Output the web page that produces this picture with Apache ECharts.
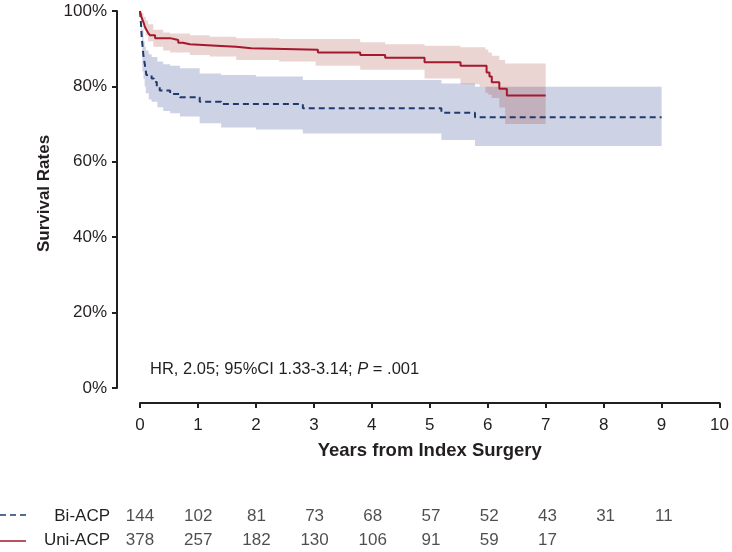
<!DOCTYPE html>
<html><head><meta charset="utf-8">
<script src="https://cdn.jsdelivr.net/npm/echarts@6/dist/echarts.min.js"></script>
<style>html,body{margin:0;padding:0;background:#fff}#c{width:732px;height:552px}</style>
</head><body><div id="c"></div>
<script>
// ---- data ----
const xTicks = [0,1,2,3,4,5,6,7,8,9,10];
const yTicks = [0,20,40,60,80,100];
// Bi-ACP Kaplan-Meier steps (time in years, survival %)
const biT = [0,0.015,0.03,0.06,0.09,0.11,0.20,0.24,0.29,0.34,0.52,0.69,1.03,1.40,2.81,5.20,5.78,9.0];
const biS = [100,97,93,88,85.2,83.0,82.1,81.2,79.8,78.9,78.0,77.1,75.9,75.3,74.2,73.0,71.8,71.8];
// Bi-ACP 95% CI band
const biBandT  = [0,0.02,0.04,0.06,0.08,0.10,0.15,0.20,0.30,0.40,0.52,0.69,1.03,1.40,2.0,2.81,5.20,5.78,9.0];
const biBandLo = [100,93,84,82,80,78.2,76.5,75.9,74.5,73.5,72.9,72.0,70.2,69.1,68.6,67.5,65.8,64.2,64.2];
const biBandHi = [100,99,95,92,90.5,89.5,88.5,87.8,86.6,85.9,85.5,84.8,83.4,83.0,82.6,81.7,80.8,79.9,79.9];
// Uni-ACP Kaplan-Meier steps
const uniT = [0,0.02,0.04,0.06,0.08,0.11,0.14,0.17,0.26,0.52,0.66,0.74,0.86,1.32,1.66,1.92,3.07,3.80,4.23,4.91,5.53,5.98,6.03,6.07,6.20,6.33,7.0];
const uniS = [100,98.6,97.8,97.0,96.0,95.0,94.2,93.6,92.8,92.3,91.6,91.2,90.8,90.5,90.1,89.7,89.0,88.3,87.6,86.4,85.5,83.7,82.6,81.1,79.4,77.6,77.6];
// Uni-ACP 95% CI band
const uniBandT  = [0,0.03,0.06,0.10,0.14,0.23,0.40,0.52,0.86,1.20,1.66,2.40,3.03,3.80,4.23,4.91,5.53,5.86,5.96,6.01,6.07,6.20,6.30,7.0];
const uniBandLo = [100,97.5,95,93.5,92,90.5,89.5,89.0,88.3,87.9,87.0,86.6,85.5,84.4,84.4,82.1,80.6,79.9,78.3,77.8,76.9,74.4,70.0,70.0];
const uniBandHi = [100,99.5,98.5,97.5,96.5,95,94.3,94.0,93.6,93.2,92.8,92.6,92.6,91.7,91.2,90.8,90.4,90.4,89.8,89.0,88.1,87.0,86.1,86.1];
// numbers at risk
const riskTimes = [0,1,2,3,4,5,6,7,8,9];
const biRisk  = [144,102,81,73,68,57,52,43,31,11];
const uniRisk = [378,257,182,130,106,91,59,17];
const groups = ['Bi-ACP','Uni-ACP'];

// ---- styles ----
const FONT = "'Liberation Sans', Arial, Helvetica, sans-serif";
const TXT = '#231f20';
const RED = '#a5182e';
const BLUE = '#1f3a6e';
const FS = 17;

function pairs(t, s){ return t.map((v,i)=>[v, s[i]]); }

function bandSeries(name, T, Lo, Hi, color){
  return {
    type: 'custom', name: name, xAxisIndex: 0, yAxisIndex: 0, silent: true, z: 1,
    data: [[T[0], Lo[0], Hi[0]]],
    renderItem: function(params, api){
      const pts = [];
      for (let i = 0; i < T.length - 1; i++){
        pts.push(api.coord([T[i], Hi[i]]));
        pts.push(api.coord([T[i+1], Hi[i]]));
      }
      for (let i = T.length - 2; i >= 0; i--){
        pts.push(api.coord([T[i+1], Lo[i]]));
        pts.push(api.coord([T[i], Lo[i]]));
      }
      return { type: 'polygon', shape: { points: pts }, style: { fill: color } };
    }
  };
}

const chart = echarts.init(document.getElementById('c'), null, {renderer: 'canvas'});
const riskData = [];
biRisk.forEach((n,i)=>riskData.push([riskTimes[i], 0, n]));
const riskData2 = [];
uniRisk.forEach((n,i)=>riskData2.push([riskTimes[i], 1, n]));

chart.setOption({
  animation: false,
  backgroundColor: '#fff',
  textStyle: { fontFamily: FONT, color: TXT },
  grid: [
    { left: 140, right: 10, top: 11, bottom: 164 },
    { left: 140, right: 10, top: 504, height: 53 }
  ],
  xAxis: [
    { type: 'value', gridIndex: 0, min: 0, max: 10, interval: 1, offset: 15,
      axisLine: { show: true, onZero: false, lineStyle: { color: TXT, width: 2 } },
      axisTick: { show: true, length: 5, lineStyle: { color: TXT, width: 2 } },
      axisLabel: { fontSize: FS, color: TXT, margin: 14, fontFamily: FONT },
      splitLine: { show: false },
      name: 'Years from Index Surgery', nameLocation: 'middle', nameGap: 38,
      nameTextStyle: { fontSize: 18.5, fontWeight: 'bold', color: TXT, fontFamily: FONT } },
    { type: 'value', gridIndex: 1, min: 0, max: 10, show: false }
  ],
  yAxis: [
    { type: 'value', gridIndex: 0, min: 0, max: 100, interval: 20, offset: 23,
      axisLine: { show: true, onZero: false, lineStyle: { color: TXT, width: 2 } },
      axisTick: { show: true, length: 5, lineStyle: { color: TXT, width: 2 } },
      axisLabel: { fontSize: FS, color: TXT, margin: 10, formatter: '{value}%', fontFamily: FONT },
      splitLine: { show: false },
      name: 'Survival Rates', nameLocation: 'middle', nameGap: 64, nameRotate: 90,
      nameTextStyle: { fontSize: 17, fontWeight: 'bold', color: TXT, fontFamily: FONT, padding: [0, 0, 0, 12] } },
    { type: 'category', gridIndex: 1, data: groups, inverse: true,
      axisLine: { show: false }, axisTick: { show: false }, splitLine: { show: false },
      axisLabel: { fontSize: FS, color: TXT, margin: 30, fontFamily: FONT } }
  ],
  series: [
    bandSeries('Bi-ACP 95% CI', biBandT, biBandLo, biBandHi, 'rgba(60,75,150,0.25)'),
    bandSeries('Uni-ACP 95% CI', uniBandT, uniBandLo, uniBandHi, 'rgba(150,45,30,0.2)'),
    { type: 'line', name: 'Bi-ACP', data: pairs(biT, biS), step: 'end', symbol: 'none', z: 3,
      lineStyle: { color: BLUE, width: 2, type: [6, 4] }, itemStyle: { color: BLUE } },
    { type: 'line', name: 'Uni-ACP', data: pairs(uniT, uniS), step: 'end', symbol: 'none', z: 4,
      lineStyle: { color: RED, width: 2 }, itemStyle: { color: RED } },
    { type: 'scatter', name: 'Bi-ACP at risk', xAxisIndex: 1, yAxisIndex: 1, data: riskData,
      symbolSize: 1, itemStyle: { color: 'rgba(0,0,0,0)' }, silent: true,
      label: { show: true, position: 'inside', formatter: p => String(p.value[2]), fontSize: FS, color: TXT, fontFamily: FONT } },
    { type: 'scatter', name: 'Uni-ACP at risk', xAxisIndex: 1, yAxisIndex: 1, data: riskData2,
      symbolSize: 1, itemStyle: { color: 'rgba(0,0,0,0)' }, silent: true,
      label: { show: true, position: 'inside', formatter: p => String(p.value[2]), fontSize: FS, color: TXT, fontFamily: FONT } }
  ],
  graphic: [
    { type: 'text', left: 150, top: 361, silent: true,
      style: { text: '{a|HR, 2.05; 95%CI 1.33-3.14; }{i|P}{a| = .001}',
        rich: { a: { fontSize: 16.5, fill: TXT, fontFamily: FONT }, i: { fontSize: 16.5, fill: TXT, fontStyle: 'italic', fontFamily: FONT } } } },
    { type: 'line', silent: true, shape: { x1: 0, y1: 515, x2: 26, y2: 515 },
      style: { stroke: BLUE, lineWidth: 1.5, lineDash: [6, 4] } },
    { type: 'line', silent: true, shape: { x1: 0, y1: 541, x2: 26, y2: 541 },
      style: { stroke: RED, lineWidth: 1.5 } }
  ]
});
</script></body></html>
